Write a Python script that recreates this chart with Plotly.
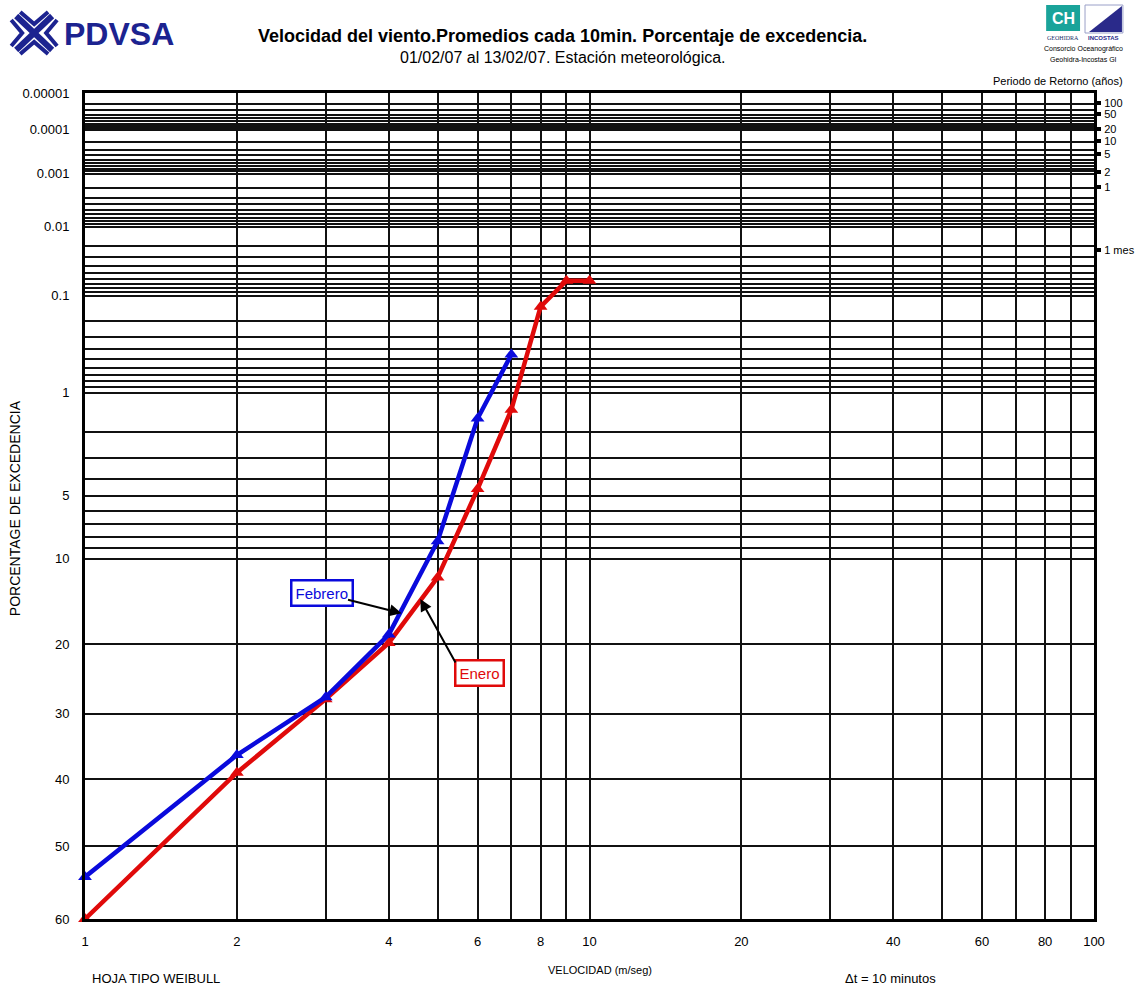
import numpy as np
import plotly.graph_objects as go

# ---------------- data ----------------
velocidad_feb = [1, 2, 3, 4, 5, 6, 7]
excedencia_feb = [54.4, 36.3, 27.5, 18.7, 8.4, 1.6, 0.45]

velocidad_ene = [1, 2, 3, 4, 5, 6, 7, 8, 9, 10]
excedencia_ene = [60.0, 39.0, 27.8, 19.8, 11.9, 4.6, 1.37, 0.136, 0.064, 0.064]

x_grid = [1, 2, 3, 4, 5, 6, 7, 8, 9, 10, 20, 30, 40, 50, 60, 70, 80, 90, 100]
x_labels = [1, 2, 4, 6, 8, 10, 20, 40, 60, 80, 100]

y_grid = ([k * d for d in [1e-5, 1e-4, 1e-3, 1e-2, 1e-1, 1.0] for k in range(1, 10)]
          + [10, 20, 30, 40, 50, 60])
y_labels = [0.00001, 0.0001, 0.001, 0.01, 0.1, 1, 5, 10, 20, 30, 40, 50, 60]
y_label_text = ["0.00001", "0.0001", "0.001", "0.01", "0.1", "1", "5", "10",
                "20", "30", "40", "50", "60"]

retorno_anos = [100, 50, 20, 10, 5, 2, 1]
retorno_text = ["100", "50", "20", "10", "5", "2", "1", "1 mes"]
intervalos_por_ano = 365 * 24 * 6      # 10-minute intervals per year
intervalos_por_mes = 30 * 24 * 6


def w(p):
    """Weibull transform of exceedance percentage."""
    p = np.asarray(p, dtype=float) / 100.0
    return np.log(-np.log(p))


ret_pct = [100.0 / (t * intervalos_por_ano) for t in retorno_anos] + [100.0 / intervalos_por_mes]


def label_for(v):
    for l, t in zip(y_labels, y_label_text):
        if abs(v - l) <= 1e-9 * max(1.0, l):
            return t
    return ""


FONT = "Liberation Sans Narrow, Liberation Sans, Arial, sans-serif"
BLUE = "#0a0adc"
RED = "#e00a0a"

# plot area in pixels
L, R, T, B = 85, 1097, 93, 919
W, H = 1147, 990


def px(x):
    return (x - L) / (R - L)


def py(y):
    return (B - y) / (B - T)


ymin = float(w(60))
ymax = float(w(0.00001))

fig = go.Figure()

fig.add_trace(go.Scatter(
    x=velocidad_ene, y=w(excedencia_ene), mode="lines+markers", name="Enero",
    line=dict(color=RED, width=4.5),
    marker=dict(symbol="triangle-up", size=12, color=RED),
    cliponaxis=False, showlegend=False))

fig.add_trace(go.Scatter(
    x=velocidad_feb, y=w(excedencia_feb), mode="lines+markers", name="Febrero",
    line=dict(color=BLUE, width=4.5),
    marker=dict(symbol="triangle-up", size=12, color=BLUE),
    cliponaxis=False, showlegend=False))

# invisible trace for right axis
fig.add_trace(go.Scatter(x=[1], y=[ymin], yaxis="y2", mode="markers",
                         marker=dict(opacity=0), showlegend=False, hoverinfo="skip"))

fig.update_layout(
    width=W, height=H,
    margin=dict(l=L, r=W - R, t=T, b=H - B),
    paper_bgcolor="white", plot_bgcolor="white",
    font=dict(family=FONT, color="black", size=12),
    xaxis=dict(
        type="log", range=[0, 2],
        tickvals=x_grid,
        ticktext=[str(v) if v in x_labels else "" for v in x_grid],
        showgrid=True, gridcolor="#111111", gridwidth=1.5,
        showline=True, linecolor="black", linewidth=3, mirror=True,
        ticks="", ticklabelstandoff=8, zeroline=False,
        tickfont=dict(size=13, family=FONT),
    ),
    yaxis=dict(
        range=[ymin, ymax],
        tickvals=list(w(y_grid)),
        ticktext=[label_for(v) for v in y_grid],
        showgrid=True, gridcolor="#111111", gridwidth=1.5,
        showline=True, linecolor="black", linewidth=3, mirror=True,
        ticks="", ticklabelstandoff=10, zeroline=False,
        tickfont=dict(size=13, family=FONT),
    ),
    yaxis2=dict(
        overlaying="y", side="right", range=[ymin, ymax],
        tickvals=list(w(ret_pct)), ticktext=retorno_text,
        showgrid=False, zeroline=False, showline=False,
        ticks="outside", ticklen=6, tickwidth=4, tickcolor="black",
        tickfont=dict(size=11, family=FONT),
        ticklabelstandoff=1,
    ),
)


def text_ann(x, y, text, size, xanchor="center", color="black", family=FONT, **kw):
    d = dict(xref="paper", yref="paper", x=px(x), y=py(y), xanchor=xanchor,
             yanchor="middle", showarrow=False, text=text,
             font=dict(size=size, family=family, color=color))
    d.update(kw)
    return d


ann = []
# titles
ann.append(text_ann(564, 36, "<b>Velocidad del viento.Promedios cada 10min. Porcentaje de excedencia.</b>", 18))
ann.append(text_ann(564, 58, "01/02/07 al 13/02/07. Estación meteorológica.", 16))
ann.append(text_ann(1128, 81, "Periodo de Retorno (años)", 11, xanchor="right"))
# axis titles / footer
ann.append(text_ann(15, 508, "PORCENTAGE DE EXCEDENCIA", 14, textangle=-90,
                    family="Liberation Sans, Arial"))
ann.append(text_ann(602, 970, "VELOCIDAD (m/seg)", 11))
ann.append(text_ann(90, 978, "HOJA TIPO WEIBULL", 13, xanchor="left"))
ann.append(text_ann(845, 978, "Δt = 10 minutos", 13, xanchor="left"))
# logos text
ann.append(text_ann(62, 34, "<b>PDVSA</b>", 32, xanchor="left", color="#1c2390",
                    family="Liberation Sans, Arial"))
ann.append(text_ann(1066, 38, "GEOHIDRA", 6, color="#20306a", family="Liberation Serif"))
ann.append(text_ann(1107, 38, "<b>INCOSTAS</b>", 6, color="#2a2a8a"))
ann.append(text_ann(1086, 49, "Consorcio Oceanográfico", 7))
ann.append(text_ann(1086, 59, "Geohidra-Incostas GI", 7))
ann.append(text_ann(1066, 18, "<b>CH</b>", 16, color="white", family="Liberation Sans"))

# series labels with arrows
ann.append(dict(xref="x", yref="y", x=np.log10(2.95), y=float(w(13.6)), showarrow=False,
                xanchor="center", yanchor="middle",
                text="Febrero", font=dict(size=15, family=FONT, color=BLUE),
                bordercolor=BLUE, borderwidth=2.5, bgcolor="white", borderpad=3))
ann.append(dict(xref="x", yref="y", x=np.log10(6.05), y=float(w(24.0)), showarrow=False,
                xanchor="center", yanchor="middle",
                text="Enero", font=dict(size=15, family=FONT, color=RED),
                bordercolor=RED, borderwidth=2.5, bgcolor="white", borderpad=3))
ann.append(dict(xref="x", yref="y", x=np.log10(4.24), y=float(w(16.0)), text="",
                showarrow=True, arrowhead=2, arrowsize=1.2, arrowwidth=2, arrowcolor="black",
                axref="pixel", ayref="pixel", ax=-55, ay=-14))
ann.append(dict(xref="x", yref="y", x=np.log10(4.62), y=float(w(14.3)), text="",
                showarrow=True, arrowhead=2, arrowsize=1.2, arrowwidth=2, arrowcolor="black",
                axref="pixel", ayref="pixel", ax=36, ay=65))
fig.update_layout(annotations=ann)

# logo shapes (decorative, paper coordinates)
shapes = []
navy = "#1c2390"
for (x0, y0, x1, y1) in [(16, 16, 52, 50), (52, 16, 16, 50)]:
    shapes.append(dict(type="line", xref="paper", yref="paper",
                       x0=px(x0), y0=py(y0), x1=px(x1), y1=py(y1),
                       line=dict(color=navy, width=6)))
for (a, b, c) in [((20, 12), (34, 24), (48, 12)), ((20, 54), (34, 42), (48, 54)),
                  ((11, 20), (22, 33), (11, 46)), ((57, 20), (46, 33), (57, 46))]:
    path = "M {} {} L {} {} L {} {}".format(px(a[0]), py(a[1]), px(b[0]), py(b[1]), px(c[0]), py(c[1]))
    shapes.append(dict(type="path", xref="paper", yref="paper", path=path,
                       line=dict(color=navy, width=4)))
shapes.append(dict(type="rect", xref="paper", yref="paper",
                   x0=px(1049), y0=py(5), x1=px(1083), y1=py(31),
                   fillcolor="#1aa39a", line=dict(width=0)))
shapes.append(dict(type="rect", xref="paper", yref="paper",
                   x0=px(1088), y0=py(5), x1=px(1126), y1=py(33),
                   fillcolor="white", line=dict(color="#9aa0c8", width=1)))
shapes.append(dict(type="path", xref="paper", yref="paper",
                   path="M {} {} L {} {} L {} {} Z".format(px(1092), py(32), px(1125), py(6), px(1125), py(32)),
                   fillcolor="#2a2a8a", line=dict(width=0)))
fig.update_layout(shapes=shapes)

fig.write_html("out.html")
